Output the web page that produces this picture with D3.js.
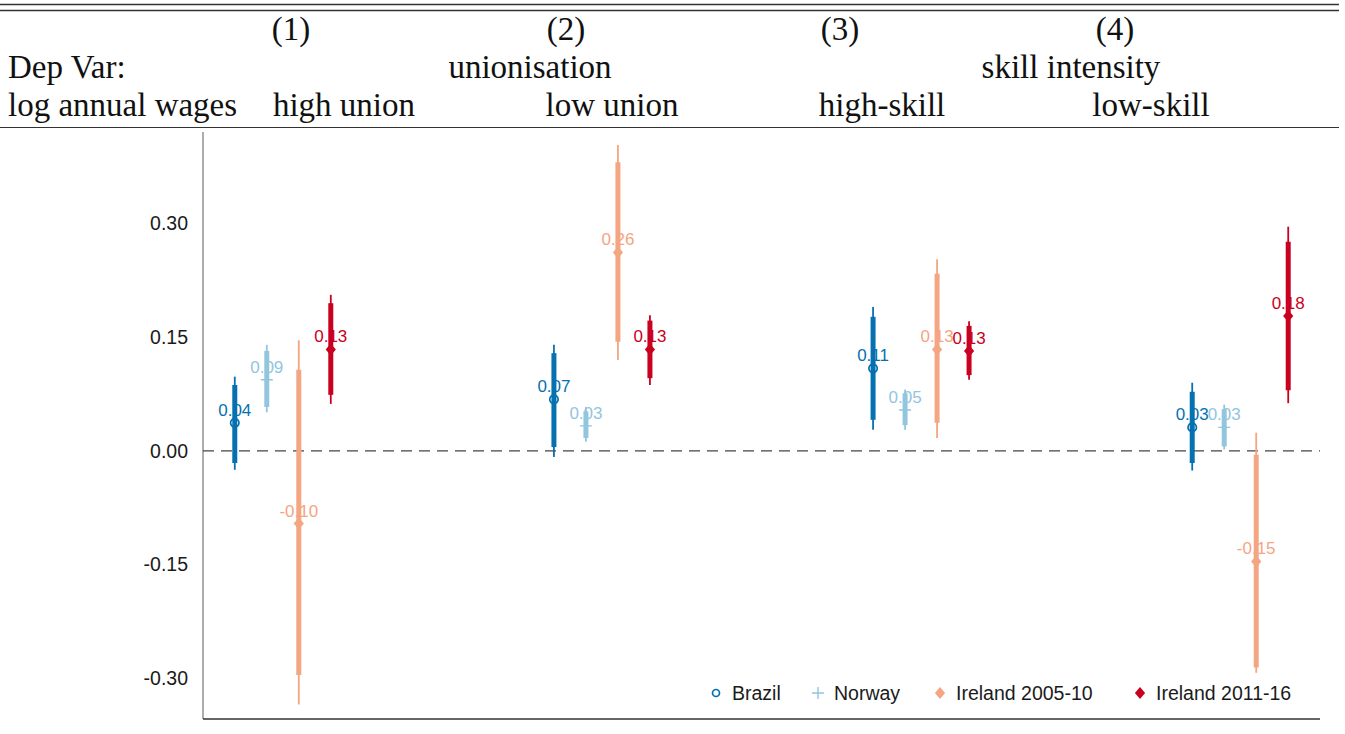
<!DOCTYPE html>
<html>
<head>
<meta charset="utf-8">
<script src="https://cdn.jsdelivr.net/npm/d3@7"></script>
<style>
  html, body { margin: 0; padding: 0; background: #fff; }
  svg { display: block; }
</style>
</head>
<body>
<svg id="chart" width="1345" height="734"></svg>
<script>
// Column structure of the regression table header
const columnNumbers = ["(1)", "(2)", "(3)", "(4)"];
const groupHeaders = ["unionisation", "skill intensity"];
const columnLabels = ["high union", "low union", "high-skill", "low-skill"];

// Series plotted in each column
const series = ["Brazil", "Norway", "Ireland 2005-10", "Ireland 2011-16"];
const seriesColors = ["#0571b0", "#92c5de", "#f4a582", "#ca0020"];

// Point estimates per series, one per column
const estBrazil  = [0.037, 0.068, 0.109, 0.031];
const estNorway  = [0.094, 0.033, 0.054, 0.031];
const estIre0510 = [-0.096, 0.262, 0.134, -0.146];
const estIre1116 = [0.134, 0.134, 0.132, 0.178];

// Narrow (thick bar) interval bounds
const loInBrazil  = [-0.016, 0.005, 0.041, -0.016];
const hiInBrazil  = [0.087, 0.129, 0.177, 0.078];
const loInNorway  = [0.058, 0.017, 0.034, 0.006];
const hiInNorway  = [0.132, 0.052, 0.076, 0.055];
const loInIre0510 = [-0.296, 0.144, 0.037, -0.286];
const hiInIre0510 = [0.107, 0.381, 0.234, -0.005];
const loInIre1116 = [0.074, 0.096, 0.100, 0.080];
const hiInIre1116 = [0.195, 0.172, 0.165, 0.276];

// Wide (thin line) interval bounds
const loOutBrazil  = [-0.025, -0.008, 0.028, -0.026];
const hiOutBrazil  = [0.098, 0.140, 0.190, 0.090];
const loOutNorway  = [0.051, 0.012, 0.028, 0.002];
const hiOutNorway  = [0.140, 0.058, 0.081, 0.061];
const loOutIre0510 = [-0.335, 0.120, 0.017, -0.293];
const hiOutIre0510 = [0.146, 0.404, 0.253, 0.024];
const loOutIre1116 = [0.062, 0.087, 0.094, 0.063];
const hiOutIre1116 = [0.206, 0.179, 0.171, 0.296];

// Y axis tick values
const yTicks = [-0.30, -0.15, 0.00, 0.15, 0.30];

const est   = [estBrazil, estNorway, estIre0510, estIre1116];
const loIn  = [loInBrazil, loInNorway, loInIre0510, loInIre1116];
const hiIn  = [hiInBrazil, hiInNorway, hiInIre0510, hiInIre1116];
const loOut = [loOutBrazil, loOutNorway, loOutIre0510, loOutIre1116];
const hiOut = [hiOutBrazil, hiOutNorway, hiOutIre0510, hiOutIre1116];

const rows = [];
series.forEach((s, si) => {
  columnNumbers.forEach((c, ci) => {
    rows.push({
      series: s, si, col: c,
      est: est[si][ci], loIn: loIn[si][ci], hiIn: hiIn[si][ci],
      loOut: loOut[si][ci], hiOut: hiOut[si][ci]
    });
  });
});

const svg = d3.select("#chart");
const serif = "'Liberation Serif', 'Times New Roman', serif";
const sans = "'Liberation Sans', Arial, sans-serif";

// ---------- Table header ----------
const head = svg.append("g").attr("font-family", serif).attr("font-size", 33).attr("fill", "#111");
head.append("line").attr("x1", 0).attr("x2", 1339).attr("y1", 4.5).attr("y2", 4.5)
  .attr("stroke", "#333").attr("stroke-width", 1.4);
head.append("line").attr("x1", 0).attr("x2", 1339).attr("y1", 10.5).attr("y2", 10.5)
  .attr("stroke", "#333").attr("stroke-width", 1.4);
head.append("line").attr("x1", 0).attr("x2", 1339).attr("y1", 127.5).attr("y2", 127.5)
  .attr("stroke", "#333").attr("stroke-width", 1.2);

const numX = [291, 566, 840, 1115];
head.selectAll("text.num").data(columnNumbers).join("text").attr("class", "num")
  .attr("x", (d, i) => numX[i]).attr("y", 40).attr("text-anchor", "middle").text(d => d);

head.append("text").attr("x", 8).attr("y", 78).text("Dep Var:");
const grpX = [530, 1071];
head.selectAll("text.grp").data(groupHeaders).join("text").attr("class", "grp")
  .attr("x", (d, i) => grpX[i]).attr("y", 78).attr("text-anchor", "middle").text(d => d);

head.append("text").attr("x", 8).attr("y", 116).text("log annual wages");
const labX = [344, 612, 882, 1151];
head.selectAll("text.lab").data(columnLabels).join("text").attr("class", "lab")
  .attr("x", (d, i) => labX[i]).attr("y", 116).attr("text-anchor", "middle").text(d => d);

// ---------- Plot ----------
const plotLeft = 203, plotRight = 1320, plotTop = 132, plotBottom = 719;

const x = d3.scalePoint().domain(columnNumbers).range([plotLeft, plotRight]).padding(0.25);
const xOff = d3.scalePoint().domain(series).range([-48, 48]);
const y = d3.scaleLinear().domain([-0.354, 0.421]).range([plotBottom, plotTop]);
// Plain hyphen for negative numbers
const locale = d3.formatLocale({ decimal: ".", thousands: ",", grouping: [3], currency: ["", ""], minus: "-" });
const fmt = locale.format(".2f");
const color = d3.scaleOrdinal().domain(series).range(seriesColors);

// Y axis
const yAxis = d3.axisLeft(y).tickValues(yTicks).tickFormat(fmt).tickSize(0).tickPadding(15);
const ya = svg.append("g").attr("transform", `translate(${plotLeft},0)`).call(yAxis);
ya.select(".domain").remove();
ya.selectAll("text").attr("font-family", sans).attr("font-size", 19.5).attr("fill", "#1a1a1a");

svg.append("line").attr("x1", plotLeft).attr("x2", plotLeft).attr("y1", plotTop).attr("y2", plotBottom)
  .attr("stroke", "#999").attr("stroke-width", 1.6);
svg.append("line").attr("x1", plotLeft).attr("x2", plotRight).attr("y1", plotBottom).attr("y2", plotBottom)
  .attr("stroke", "#333").attr("stroke-width", 1.3);

// Zero reference line
svg.append("line").attr("x1", plotLeft).attr("x2", plotRight).attr("y1", y(0)).attr("y2", y(0))
  .attr("stroke", "#444").attr("stroke-width", 1.2).attr("stroke-dasharray", "11,7");

const px = d => x(d.col) + xOff(d.series);

// Value labels (beneath the bars)
svg.append("g").selectAll("text").data(rows).join("text")
  .attr("x", px).attr("y", d => y(d.est) - 7)
  .attr("text-anchor", "middle")
  .attr("font-family", sans).attr("font-size", 17)
  .attr("fill", d => color(d.series))
  .text(d => fmt(d.est));

// Wide intervals
svg.append("g").selectAll("line").data(rows).join("line")
  .attr("x1", px).attr("x2", px)
  .attr("y1", d => y(d.loOut)).attr("y2", d => y(d.hiOut))
  .attr("stroke", d => color(d.series)).attr("stroke-width", 1.8);

// Narrow intervals
svg.append("g").selectAll("line").data(rows).join("line")
  .attr("x1", px).attr("x2", px)
  .attr("y1", d => y(d.loIn)).attr("y2", d => y(d.hiIn))
  .attr("stroke", d => color(d.series)).attr("stroke-width", 5);

// Point markers
function drawMarker(sel, s, big) {
  const c = color(s);
  if (s === "Brazil") {
    sel.append("circle").attr("r", big ? 4.2 : 3.5)
      .attr("fill", "none").attr("stroke", c).attr("stroke-width", 1.7);
  } else if (s === "Norway") {
    const h = 6;
    sel.append("path").attr("d", `M${-h},0H${h}M0,${-h}V${h}`)
      .attr("stroke", c).attr("stroke-width", 1.4).attr("fill", "none");
  } else {
    const h = 6;
    sel.append("path").attr("d", `M0,${-h}L${h * 0.85},0L0,${h}L${-h * 0.85},0Z`).attr("fill", c);
  }
}

svg.append("g").selectAll("g").data(rows).join("g")
  .attr("transform", d => `translate(${px(d)},${y(d.est)})`)
  .each(function (d) { drawMarker(d3.select(this), d.series, true); });

// Legend
const legX = [716, 818, 940, 1140];
const leg = svg.append("g").selectAll("g").data(series).join("g")
  .attr("transform", (d, i) => `translate(${legX[i]},693)`);
leg.each(function (d) { drawMarker(d3.select(this), d, false); });
leg.append("text").attr("x", 16).attr("dy", "0.36em")
  .attr("font-family", sans).attr("font-size", 19.5).attr("fill", "#1a1a1a")
  .text(d => d);
</script>
</body>
</html>
